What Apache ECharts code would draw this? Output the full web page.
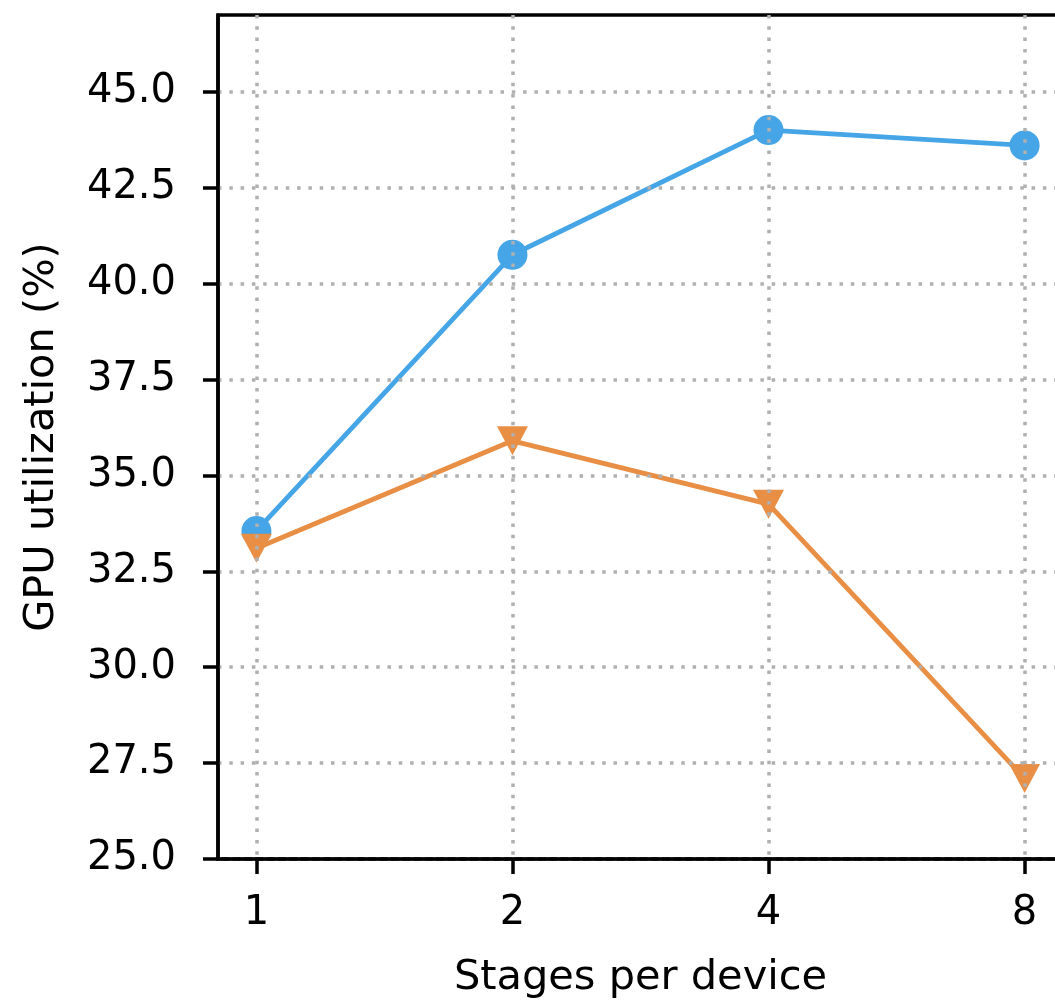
<!DOCTYPE html>
<html>
<head>
<meta charset="utf-8">
<script src="https://cdn.jsdelivr.net/npm/echarts@6/dist/echarts.min.js"></script>
<style>
  html, body { margin: 0; padding: 0; background: #fff; overflow: hidden; }
  #chart { width: 1075px; height: 1002px; }
</style>
</head>
<body>
<div id="chart"></div>
<script>
  // stages per device (x) and utilization for the two runs
  const stages = [1, 2, 4, 8]
  const utilA = [33.55, 40.75, 44.0, 43.6]
  const utilB = [33.1, 35.9, 34.25, 27.1]
  const yTicks = [25, 27.5, 30, 32.5, 35, 37.5, 40, 42.5, 45]

  const xPos = stages.map(s => Math.log2(s))
  const font = 'DejaVu Sans'

  const chart = echarts.init(document.getElementById('chart'))

  const axisCommon = {
    z: 5,
    axisLine: { show: true, onZero: false, lineStyle: { color: '#000', width: 3.5 } },
    axisTick: { show: true, length: 15, lineStyle: { color: '#000', width: 3.5 } },
    splitLine: { show: true, lineStyle: { color: '#b0b0b0', width: 3.5, type: [3.5, 7.8] } },
    nameTextStyle: { fontFamily: font, fontSize: 41.5, color: '#000' }
  }

  chart.setOption({
    animation: false,
    grid: {
      left: 218, top: 15, width: 845, height: 844,
      outerBoundsMode: 'none',
      show: true, borderColor: '#000', borderWidth: 3.5, backgroundColor: 'transparent'
    },
    xAxis: Object.assign({}, axisCommon, {
      type: 'value',
      min: -0.15,
      max: 3.15,
      name: 'Stages per device',
      nameLocation: 'middle',
      nameGap: 98,
      axisTick: Object.assign({}, axisCommon.axisTick, { customValues: xPos }),
      axisLabel: {
        customValues: xPos,
        margin: 35,
        fontFamily: font, fontSize: 40, color: '#000',
        formatter: v => String(Math.round(Math.pow(2, v)))
      }
    }),
    yAxis: Object.assign({}, axisCommon, {
      type: 'value',
      min: 25,
      max: 47,
      name: 'GPU utilization (%)',
      nameLocation: 'middle',
      nameGap: 155,
      axisTick: Object.assign({}, axisCommon.axisTick, { customValues: yTicks }),
      axisLabel: {
        customValues: yTicks,
        margin: 42,
        fontFamily: font, fontSize: 40, color: '#000',
        formatter: v => v.toFixed(1)
      }
    }),
    series: [
      {
        type: 'line',
        data: xPos.map((x, i) => [x, utilA[i]]),
        symbol: 'circle',
        symbolSize: 30,
        lineStyle: { color: '#45a5e6', width: 4.8 },
        itemStyle: { color: '#45a5e6' }
      },
      {
        type: 'line',
        data: xPos.map((x, i) => [x, utilB[i]]),
        symbol: 'triangle',
        symbolRotate: 180,
        symbolSize: [31, 29],
        lineStyle: { color: '#e88f45', width: 4.8 },
        itemStyle: { color: '#e88f45' }
      }
    ]
  })
</script>
</body>
</html>
